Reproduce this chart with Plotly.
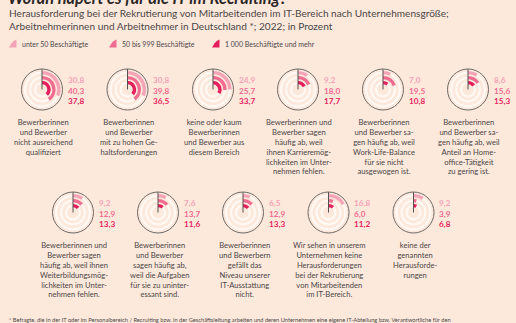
import plotly.graph_objects as go

# ---------------- data ----------------
categories = [
    "Bewerberinnen<br>und Bewerber<br>nicht ausreichend<br>qualifiziert",
    "Bewerberinnen<br>und Bewerber<br>mit zu hohen Ge-<br>haltsforderungen",
    "keine oder kaum<br>Bewerberinnen<br>und Bewerber aus<br>diesem Bereich",
    "Bewerberinnen und<br>Bewerber sagen<br>häufig ab, weil<br>ihnen Karrieremög-<br>lichkeiten im Unter-<br>nehmen fehlen.",
    "Bewerberinnen<br>und Bewerber sa-<br>gen häufig ab, weil<br>Work-Life-Balance<br>für sie nicht<br>ausgewogen ist.",
    "Bewerberinnen<br>und Bewerber sa-<br>gen häufig ab, weil<br>Anteil an Home-<br>office-Tätigkeit<br>zu gering ist.",
    "Bewerberinnen und<br>Bewerber sagen<br>häufig ab, weil ihnen<br>Weiterbildungsmög-<br>lichkeiten im Unter-<br>nehmen fehlen.",
    "Bewerberinnen<br>und Bewerber<br>sagen häufig ab,<br>weil die Aufgaben<br>für sie zu uninter-<br>essant sind.",
    "Bewerberinnen<br>und Bewerbern<br>gefällt das<br>Niveau unserer<br>IT-Ausstattung<br>nicht.",
    "Wir sehen in unserem<br>Unternehmen keine<br>Herausforderungen<br>bei der Rekrutierung<br>von Mitarbeitenden<br>im IT-Bereich.",
    "keine der<br>genannten<br>Herausforde-<br>rungen",
]
v_small = [30.8, 30.8, 24.9, 9.2, 7.0, 8.6, 9.2, 7.6, 6.5, 16.8, 9.2]
v_mid = [40.3, 39.8, 25.7, 18.0, 19.5, 15.6, 12.9, 13.7, 12.9, 6.0, 3.9]
v_large = [37.8, 36.5, 33.7, 17.7, 10.8, 15.3, 13.3, 11.6, 13.3, 11.2, 6.8]
series_names = ["unter 50 Beschäftigte", "50 bis 999 Beschäftigte", "1\u202f000 Beschäftigte und mehr"]

title = "Woran hapert es für die IT im Recruiting?"
subtitle1 = "Herausforderung bei der Rekrutierung von Mitarbeitenden im IT-Bereich nach Unternehmensgröße;"
subtitle2 = "Arbeitnehmerinnen und Arbeitnehmer in Deutschland *; 2022; in Prozent"
footnote = ("* Befragte, die in der IT oder im Personalbereich / Recruiting bzw. in der Geschäftsleitung arbeiten "
            "und deren Unternehmen eine eigene IT-Abteilung bzw. Verantwortliche für den")

# ---------------- style / layout ----------------
W, H = 516, 323
BG = "#fde9dc"
RING = "#fff8f3"
COLORS = ["#f5a3b7", "#ef6b8f", "#e51f5d"]
OUTLINE = "#6e6a68"
TXT = "#4a4646"
FONT = "Lato"
R = 20.5
ARC_BANDS = [(15.2, 3.4), (10.2, 3.4), (5.2, 3.4)]   # (base, thickness) outer->inner
RING_BANDS = [(15.8, 2.2), (10.8, 2.2), (5.8, 2.2)]
centers = [(42, 89.5), (127.5, 89.5), (213, 89.5), (298, 89.5), (383, 89.5), (468, 89.5),
           (73, 212.5), (158, 212.5), (243, 212.5), (328.5, 212.5), (413.5, 212.5)]


def px(x):
    return x / W


def py(y):
    return 1 - y / H


def fmt(v):
    return f"{v:.1f}".replace(".", ",")


fig = go.Figure()
annotations = []
layout_polars = {}

for i, (cx, cy) in enumerate(centers):
    pname = "polar" if i == 0 else f"polar{i + 1}"
    vals = [v_small[i], v_mid[i], v_large[i]]
    # background rings
    fig.add_trace(go.Barpolar(r=[t for b, t in RING_BANDS], base=[b for b, t in RING_BANDS],
                              theta=[180] * 3, width=[359.9] * 3,
                              marker=dict(color=RING, line=dict(width=0)),
                              subplot=pname, hoverinfo="skip", showlegend=False))
    # value arcs
    fig.add_trace(go.Barpolar(r=[t for b, t in ARC_BANDS], base=[b for b, t in ARC_BANDS],
                              theta=[v * 1.8 for v in vals], width=[v * 3.6 for v in vals],
                              marker=dict(color=COLORS, line=dict(width=0)),
                              subplot=pname, showlegend=False))
    # start marker line
    fig.add_trace(go.Scatterpolar(r=[0, R + 3], theta=[0, 0], mode="lines",
                                  line=dict(color="#555150", width=1), cliponaxis=False,
                                  subplot=pname, hoverinfo="skip", showlegend=False))
    layout_polars[pname] = dict(
        domain=dict(x=[px(cx - R), px(cx + R)], y=[py(cy + R), py(cy - R)]),
        bgcolor="rgba(0,0,0,0)",
        barmode="overlay",
        radialaxis=dict(visible=False, range=[0, R]),
        angularaxis=dict(rotation=90, direction="clockwise", showticklabels=False, ticks="",
                         showgrid=False, showline=True, linecolor=OUTLINE, linewidth=1),
    )
    num_text = "<br>".join(f"<span style='color:{COLORS[k]}'><b>{fmt(v)}</b></span>"
                           for k, v in enumerate(vals))
    annotations.append(dict(x=px(cx + 24.5), y=py(cy + 1), xref="paper", yref="paper",
                            text=num_text, showarrow=False, xanchor="left", yanchor="middle",
                            align="left", borderpad=0,
                            font=dict(family=FONT, size=8.2, color=COLORS[2])))
    annotations.append(dict(x=px(cx + 1), y=py(cy + 25), xref="paper", yref="paper",
                            text=categories[i], showarrow=False, xanchor="center", yanchor="top",
                            align="center", font=dict(family=FONT, size=7.6, color=TXT)))

# title & subtitle
annotations.append(dict(x=px(7), y=py(-2.6), xref="paper", yref="paper", text=f"<b><i>{title}</i></b>",
                        showarrow=False, xanchor="left", yanchor="middle", borderpad=0,
                        font=dict(family=FONT, size=16.3, color="#2b2727")))
annotations.append(dict(x=px(8), y=py(13.0), xref="paper", yref="paper", text=subtitle1,
                        showarrow=False, xanchor="left", yanchor="middle", borderpad=0,
                        font=dict(family=FONT, size=10.1, color=TXT)))
annotations.append(dict(x=px(8), y=py(25.6), xref="paper", yref="paper", text=subtitle2,
                        showarrow=False, xanchor="left", yanchor="middle", borderpad=0,
                        font=dict(family=FONT, size=10.1, color=TXT)))
annotations.append(dict(x=px(7), y=py(319), xref="paper", yref="paper", text=footnote,
                        showarrow=False, xanchor="left", yanchor="middle",
                        font=dict(family=FONT, size=5.7, color=TXT)))

# legend
shapes = []
legend_x = [9, 109, 212]
for k, name in enumerate(series_names):
    x0 = legend_x[k]
    x1 = x0 + 7.5
    y0, y1 = 47.5, 39.5
    path = (f"M {px(x0)},{py(y0)} L {px(x1)},{py(y0)} L {px(x1)},{py(y1)} "
            f"Q {px(x0 + 3.5)},{py(y1 + 1)} {px(x0)},{py(y0)} Z")
    shapes.append(dict(type="path", xref="paper", yref="paper", path=path,
                       fillcolor=COLORS[k], line=dict(width=0)))
    annotations.append(dict(x=px(x0 + 11), y=py(43.8), xref="paper", yref="paper", text=name,
                            showarrow=False, xanchor="left", yanchor="middle",
                            font=dict(family=FONT, size=7.0, color=TXT)))

fig.update_layout(
    width=W, height=H, margin=dict(l=0, r=0, t=0, b=0),
    paper_bgcolor=BG, plot_bgcolor=BG,
    showlegend=False, annotations=annotations, shapes=shapes,
    **layout_polars,
)

fig.write_html("out.html")
